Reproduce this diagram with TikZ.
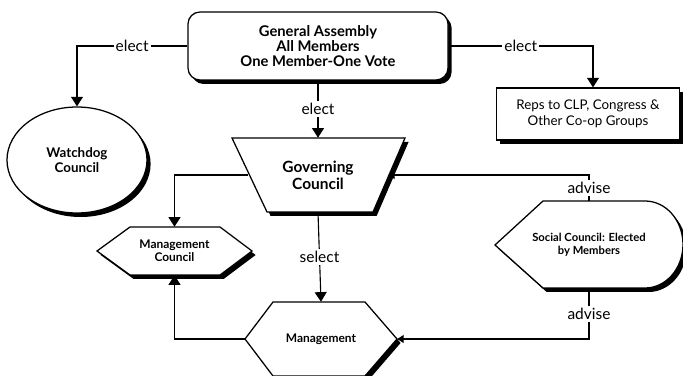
\documentclass[tikz,border=0pt]{standalone}
\usepackage{fontspec}
\setmainfont{Lato}
\usetikzlibrary{positioning,calc,arrows.meta,shapes.geometric}
\tikzset{
  figfont/.style={font=\fontsize{11}{12}\selectfont},
  figshadow/.style={preaction={fill=black, draw=none, transform canvas={shift={(0.9mm,-1mm)}}}},
  figbox/.style={draw, line width=0.9pt, fill=white, align=center, inner sep=2pt, figshadow},
  figoutline/.style={draw, line width=0.9pt, fill=white, figshadow},
  figtext/.style={align=center, inner sep=0pt},
  figlabel/.style={fill=white, inner sep=1.5pt, font=\fontsize{11}{12}\selectfont},
  figarrow/.style={-{Triangle[length=2.4mm,width=3mm]}, line width=0.8pt},
  figarrowsmall/.style={-{Triangle[length=1.6mm,width=2mm]}, line width=0.8pt},
}
\begin{document}
\begin{tikzpicture}[x=0.25mm,y=-0.25mm,figfont]
	\useasboundingbox (0,0) rectangle (683,376);

	% Top: general assembly and the bodies it elects
	\node[figbox, rounded corners=3mm, minimum width=65mm, minimum height=17mm,
	font=\bfseries\fontsize{10.5}{10.7}\selectfont] (assembly) at (318,46)
	{General Assembly\\All Members\\One Member-One Vote};
	\node[figbox, ellipse, minimum width=35mm, minimum height=26.5mm,
	font=\bfseries\fontsize{9.5}{10.5}\selectfont] (watchdog) at (77,160) {Watchdog\\Council};
	\node[figbox, minimum width=45.75mm, minimum height=13mm,
	font=\fontsize{9.5}{11.5}\selectfont] (reps) at (588,114)
	{Reps to CLP, Congress \&\\Other Co-op Groups};

	% Middle: governing council (trapezoid)
	\draw[figoutline] (232,138) -- (405,138) -- (373,212) -- (267,212) -- cycle;
	\node[figtext, minimum width=35mm, minimum height=18.5mm,
	font=\bfseries\fontsize{11}{12}\selectfont] (governing) at (318,175) {Governing\\Council};

	% Bottom: management bodies (hexagons)
	\draw[figoutline] (97,251) -- (130,227) -- (220,227) -- (252,251) -- (220,275) -- (130,275) -- cycle;
	\node[figtext, minimum width=38.75mm, minimum height=12mm,
	font=\bfseries\fontsize{8.5}{9.5}\selectfont] (mgmtcouncil) at (174.5,251) {Management\\Council};
	\draw[figoutline] (245,339) -- (273,302) -- (365,302) -- (397,339) -- (365,376) -- (273,376) -- cycle;
	\node[figtext, minimum width=38mm, minimum height=18.5mm,
	font=\bfseries\fontsize{8.5}{9.5}\selectfont] (management) at (321,339) {Management};

	% Right: social council (pointed left, rounded right)
	\draw[figoutline] (495,245) -- (543,201) -- (645,201)
	arc[start angle=-90, end angle=90, x radius=38, y radius=43.5] -- (543,288) -- cycle;
	\node[figtext, minimum width=47mm, minimum height=21.75mm,
	font=\bfseries\fontsize{8}{9}\selectfont] (social) at (589,245)
	{Social Council: Elected\\by Members};

	% Connectors
	\draw[figarrow] (assembly.west) -| node[figlabel, pos=0.25] {elect} (watchdog.north);
	\draw[figarrow] (assembly.east) -| node[figlabel, pos=0.25] {elect} ([xshift=1.25mm]reps.north);
	\draw[figarrow] (assembly.south) -- node[figlabel] {elect} (governing.north);
	\draw[figarrow] (governing.west) -| (mgmtcouncil.north);
	\draw[figarrow] (governing.south) -- node[figlabel] {select} (management.north);
	\draw[figarrow] (management.west) -| (mgmtcouncil.south);
	\draw[figarrowsmall] (social.north) |- node[figlabel, pos=0.25] {advise} (governing.east);
	\draw[figarrowsmall] (social.south) |- node[figlabel, pos=0.25] {advise} (management.east);
\end{tikzpicture}
\end{document}
